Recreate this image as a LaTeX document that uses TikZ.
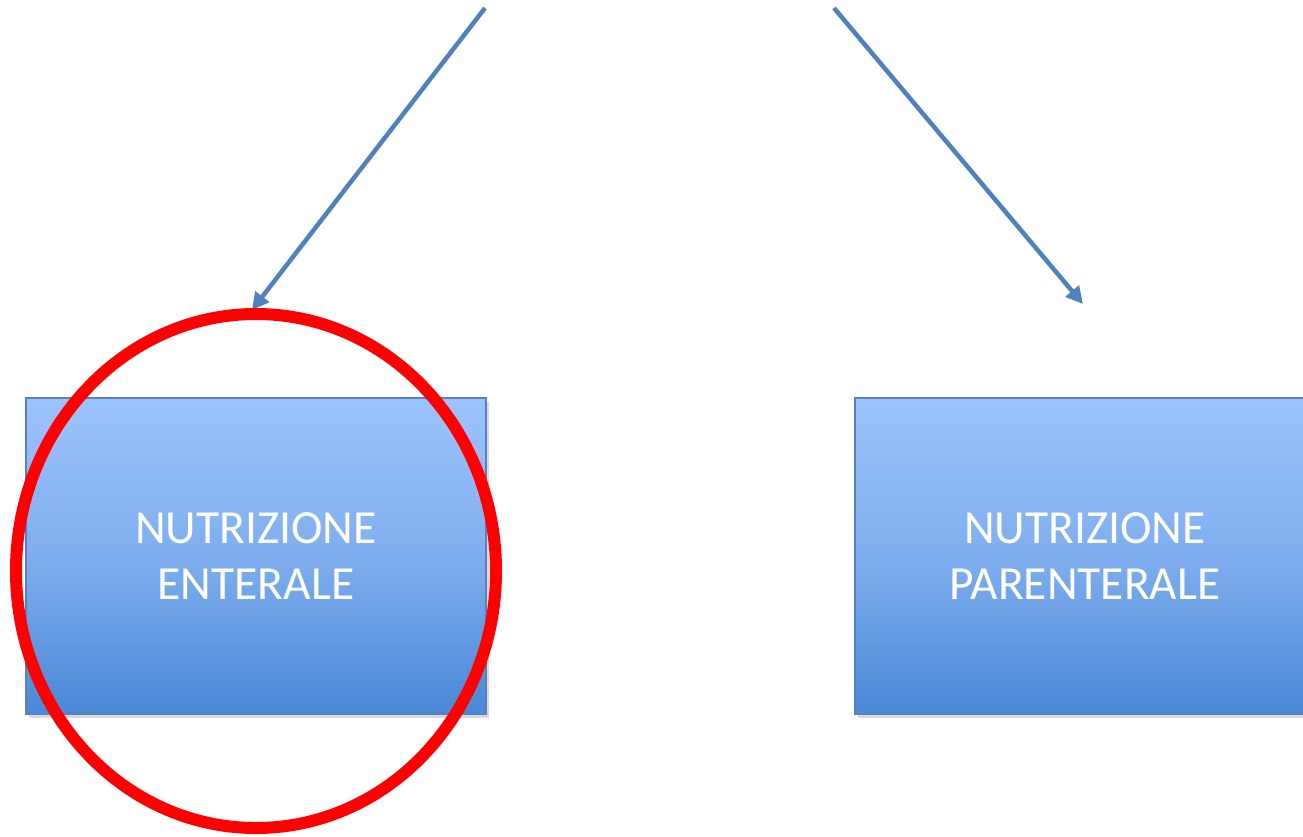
\documentclass[tikz,border=0pt]{standalone}
\usepackage{fontspec}
\setmainfont{Carlito}
\usetikzlibrary{arrows.meta,shadows,shapes.geometric}
\definecolor{boxtop}{HTML}{9DC3FD}
\definecolor{boxmid}{HTML}{7FAEEE}
\definecolor{boxbot}{HTML}{4A88D6}
\definecolor{boxline}{HTML}{5882BE}
\definecolor{arrowblue}{HTML}{4F81BD}
\definecolor{ringred}{HTML}{FF0000}
\tikzset{
  boxnode/.style={draw=boxline, line width=2pt, rectangle, minimum width=460pt, minimum height=316pt,
    top color=boxtop, bottom color=boxbot, middle color=boxmid,
    drop shadow={shadow xshift=3pt, shadow yshift=-4pt, opacity=0.25, fill=black!60},
    text=white, align=center, font=\fontsize{47.5pt}{56pt}\selectfont, inner sep=0pt},
  conn/.style={draw=arrowblue, line width=4.5pt, -{Triangle[length=17pt,width=17pt]}},
  ring/.style={draw=ringred, line width=12pt}
}
\begin{document}
\begin{tikzpicture}[x=1pt,y=-1pt]
\useasboundingbox (0,0) rectangle (1303,836);
\begin{scope}
\clip (0,0) rectangle (1303,836);
\node[boxnode] (ent) at (256,556) {NUTRIZIONE\\ENTERALE};
\node[boxnode] (par) at (1085,556) {NUTRIZIONE\\PARENTERALE};
\end{scope}
\coordinate (s1) at (485,8);
\coordinate (e1) at (252,310);
\coordinate (s2) at (834,8);
\coordinate (e2) at (1083,304);
\draw[conn] (s1) -- (e1);
\draw[conn] (s2) -- (e2);
\node[ring, ellipse, minimum width=480pt, minimum height=514pt, inner sep=0pt] (circ) at (256,571) {};
\end{tikzpicture}
\end{document}
